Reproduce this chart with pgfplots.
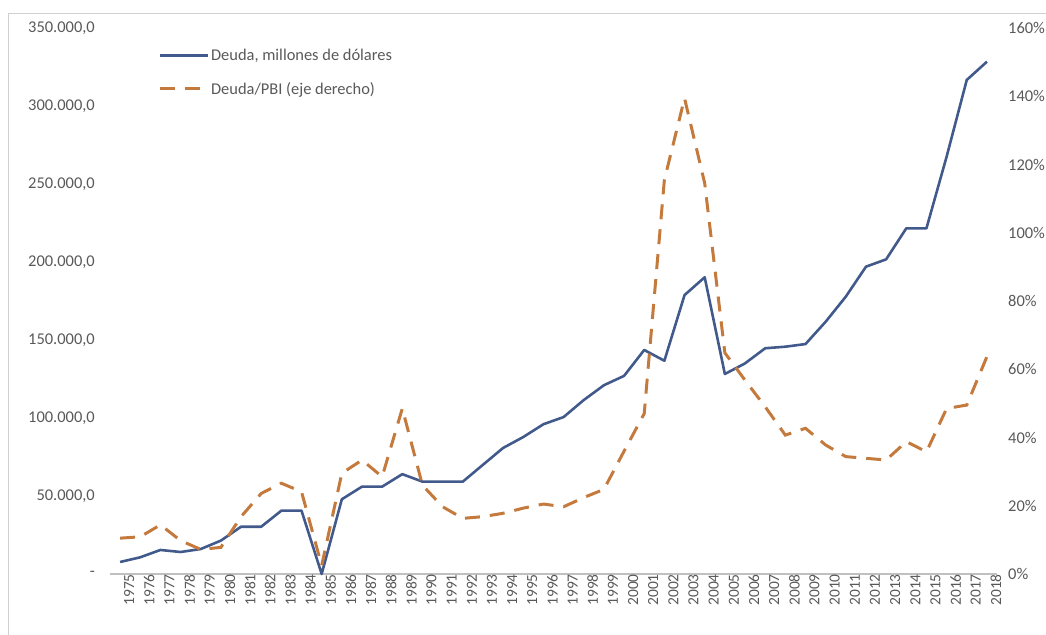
\documentclass[border=0pt]{standalone}
\usepackage{fontspec}
\setmainfont{Carlito}
\usepackage{pgfplots}
\usepackage{pgfplotstable}
\pgfplotsset{compat=1.18}
\definecolor{deuda}{HTML}{41598B}
\definecolor{ratio}{HTML}{C4793D}
\definecolor{txt}{HTML}{595959}
\definecolor{axl}{HTML}{C0C0C0}
\definecolor{brd}{HTML}{D0D0D0}

\pgfplotstableread{
year debt ratio
1975 7700 10.5
1976 10700 10.9
1977 15400 14.4
1978 14100 9.8
1979 16000 7.2
1980 21400 7.8
1981 30300 16.8
1982 30300 23.6
1983 40600 26.6
1984 40600 24.1
1985 0 2.5
1986 47900 29.5
1987 56000 33.4
1988 56000 28.5
1989 64000 48.5
1990 59200 26.0
1991 59200 19.7
1992 59200 16.3
1993 70000 16.8
1994 80800 17.8
1995 87800 19.3
1996 96000 20.5
1997 100600 19.7
1998 111500 22.4
1999 121000 24.8
2000 127000 36.0
2001 143600 47.0
2002 136700 115.5
2003 178800 139.4
2004 190200 114.5
2005 128200 64.8
2006 135000 56.8
2007 144700 49.0
2008 145700 40.7
2009 147400 42.7
2010 161700 37.8
2011 177800 34.4
2012 197000 33.9
2013 201700 33.4
2014 221600 38.8
2015 221600 35.8
2016 267500 48.5
2017 316700 49.5
2018 328400 63.7
}\datatable

\begin{document}
\begin{tikzpicture}[font=\fontsize{16.5}{19}\selectfont]
\draw[brd, line width=0.8pt] (-102bp,-200bp) rectangle (1100bp,561bp);
\begin{axis}[
  name=main,
  at={(0,0)}, anchor=south west,
  width=887bp, height=546bp, scale only axis,
  xmin=1974.5, xmax=2018.5,
  ymin=0, ymax=350000,
  axis x line*=bottom, axis y line*=left,
  x axis line style={-, draw=axl, line width=1.2pt},
  y axis line style={draw=none},
  major tick length=0pt,
  xtick={1975,1976,1977,1978,1979,1980,1981,1982,1983,1984,1985,1986,1987,1988,1989,1990,1991,1992,1993,1994,1995,1996,1997,1998,1999,2000,2001,2002,2003,2004,2005,2006,2007,2008,2009,2010,2011,2012,2013,2014,2015,2016,2017,2018},
  xticklabels={1975,1976,1977,1978,1979,1980,1981,1982,1983,1984,1985,1986,1987,1988,1989,1990,1991,1992,1993,1994,1995,1996,1997,1998,1999,2000,2001,2002,2003,2004,2005,2006,2007,2008,2009,2010,2011,2012,2013,2014,2015,2016,2017,2018},
  xticklabel style={rotate=90, anchor=east, text=txt, inner sep=0pt, yshift=-9bp, font=\fontsize{15.5}{18}\selectfont},
  ytick={0,50000,100000,150000,200000,250000,300000,350000},
  yticklabels={{-},{50.000,0},{100.000,0},{150.000,0},{200.000,0},{250.000,0},{300.000,0},{350.000,0}},
  yticklabel style={anchor=east, text=txt, inner sep=0pt, xshift=-15bp},
  scaled y ticks=false,
  clip=false,
  legend cell align=left,
  legend style={draw=none, fill=none, at={(rel axis cs:0.054,0.965)}, anchor=north west,
    text=txt, row sep=16bp, inner sep=0pt, nodes={inner sep=2bp}},
  legend image code/.code={\draw[#1] (0bp,0bp) -- (48bp,0bp);},
]
\addplot[deuda, line width=2.6pt, line join=round] table[x=year, y=debt] {\datatable};
\addlegendentry{Deuda, millones de dólares}
\addlegendimage{ratio, line width=3pt, dash pattern=on 15bp off 10bp}
\addlegendentry{Deuda/PBI (eje derecho)}
\end{axis}
\begin{axis}[
  at={(0,0)}, anchor=south west,
  width=887bp, height=546bp, scale only axis,
  xmin=1974.5, xmax=2018.5,
  ymin=0, ymax=160,
  axis y line*=right, axis x line=none,
  y axis line style={draw=none},
  major tick length=0pt,
  ytick={0,20,40,60,80,100,120,140,160},
  yticklabels={0\%,20\%,40\%,60\%,80\%,100\%,120\%,140\%,160\%},
  yticklabel style={anchor=west, text=txt, inner sep=0pt, xshift=11bp},
  clip=false,
]
\addplot[ratio, line width=3pt, dash pattern=on 15bp off 10bp] table[x=year, y=ratio] {\datatable};
\end{axis}
\pgfresetboundingbox
\path[use as bounding box] (-110bp,-61bp) rectangle (936bp,574bp);
\end{tikzpicture}
\end{document}
